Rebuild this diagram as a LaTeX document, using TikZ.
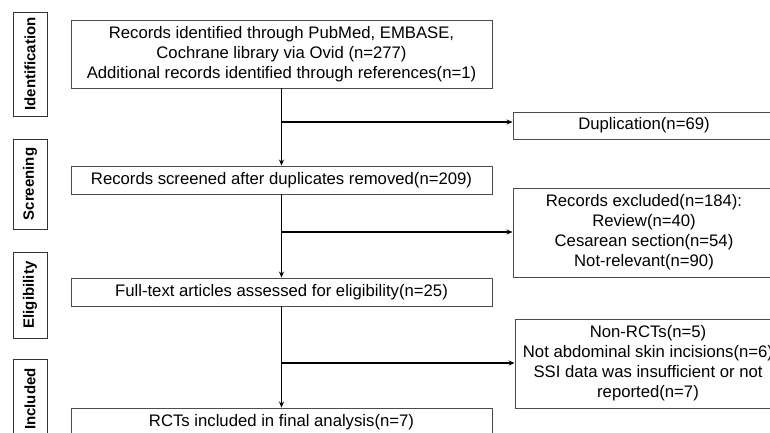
\documentclass[tikz,border=0pt]{standalone}
\usepackage{fontspec}
\setmainfont{Liberation Sans}
\usetikzlibrary{arrows.meta}
\begin{document}
\begin{tikzpicture}[x=1pt,y=-1pt,
  box/.style={draw=black!70, line width=0.9pt, inner sep=0pt, align=center,
    font=\fontsize{16.7}{20}\selectfont},
  phase/.style={draw=black!80, line width=1pt, inner sep=0pt, rotate=90,
    font=\fontsize{15}{18}\selectfont\bfseries},
  conn/.style={line width=1.3pt, black},
  arr/.style={conn, -{Stealth[length=6pt,width=5pt]}}]
\useasboundingbox (0,0) rectangle (770,432);
\clip (0,0) rectangle (770,432);
% phase labels
\node[phase, minimum width=104pt, minimum height=34pt] (pid) at (30,64) {Identification};
\node[phase, minimum width=90pt, minimum height=34pt] (psc) at (30,184) {Screening};
\node[phase, minimum width=86pt, minimum height=34pt] (pel) at (30,295) {Eligibility};
\node[phase, minimum width=80pt, minimum height=34pt] (pin) at (30,399) {Included};
% main boxes
\node[box, minimum width=421pt, minimum height=68pt] (id) at (281.5,54)
  {Records identified through PubMed, EMBASE,\\Cochrane library via Ovid (n=277)\\Additional records identified through references(n=1)};
\node[box, minimum width=421pt, minimum height=28pt] (sc) at (281.5,180)
  {Records screened after duplicates removed(n=209)};
\node[box, minimum width=421pt, minimum height=28pt] (el) at (281.5,292)
  {Full-text articles assessed for eligibility(n=25)};
\node[box, minimum width=421pt, minimum height=28pt] (inc) at (281.5,422)
  {RCTs included in final analysis(n=7)};
% side boxes
\node[box, minimum width=262pt, minimum height=27pt] (dup) at (644,125.5)
  {Duplication(n=69)};
\node[box, minimum width=262pt, minimum height=89pt] (exc) at (644,232.5)
  {Records excluded(n=184):\\Review(n=40)\\Cesarean section(n=54)\\Not-relevant(n=90)};
\node[box, minimum width=266pt, minimum height=89pt] (nr) at (648,363.5)
  {Non-RCTs(n=5)\\Not abdominal skin incisions(n=6)\\SSI data was insufficient or not\\reported(n=7)};
% connectors
\coordinate (b1) at (282,122);
\coordinate (b2) at (282,232);
\coordinate (b3) at (282,363);
\draw[arr] (id.south) -- (sc.north);
\draw[arr] (sc.south) -- (el.north);
\draw[arr] (el.south) -- (inc.north);
\draw[arr] (b1) -- (b1 -| dup.west);
\draw[arr] (b2) -- (b2 -| exc.west);
\draw[arr] (b3) -- (b3 -| nr.west);
\end{tikzpicture}
\end{document}
